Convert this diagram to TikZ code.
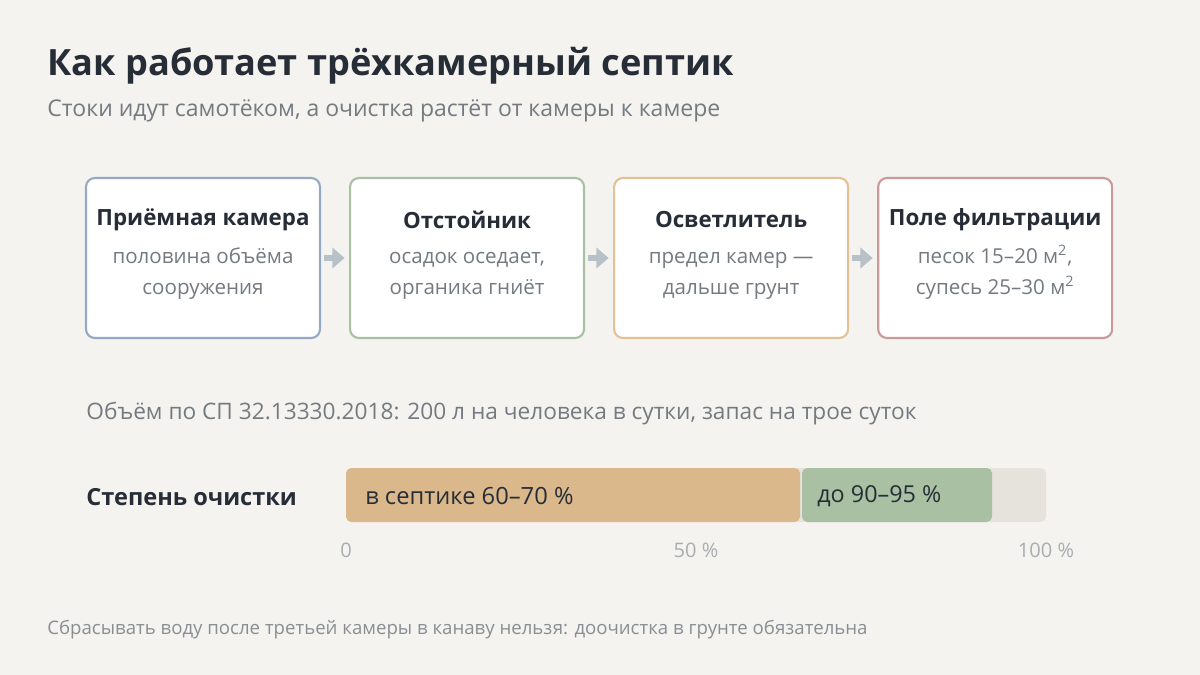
\documentclass[tikz,border=0pt]{standalone}
\usepackage{fontspec}
\setmainfont{Open Sans}
\usetikzlibrary{positioning,arrows.meta}
\definecolor{bg}{HTML}{F5F3F0}
\definecolor{ink}{HTML}{262D36}
\definecolor{grey}{HTML}{737A80}
\definecolor{light}{HTML}{A8ADB2}
\definecolor{arr}{HTML}{B8C0C8}
\definecolor{cblue}{HTML}{94A9C2}
\definecolor{cgreen}{HTML}{A9C0A2}
\definecolor{ctan}{HTML}{E2C195}
\definecolor{crose}{HTML}{C99A9A}
\definecolor{barA}{HTML}{DBB88B}
\definecolor{barB}{HTML}{A9C0A2}
\definecolor{track}{HTML}{E6E3DC}
\newcommand{\sqm}{м\smash{\textsuperscript{2}}}
\newcommand{\lead}{\rule{0pt}{12pt}}
\tikzset{
  chamber/.style={draw=#1, line width=1.2pt, fill=white, rounded corners=5pt,
    minimum width=4.68cm, minimum height=3.2cm, inner sep=0pt},
  flow/.style={draw=arr, line width=3.3pt, -{Triangle[length=7pt,width=11.5pt]}},
  ctitle/.style={font=\bfseries\fontsize{12.7}{15}\selectfont, text=ink},
  csub/.style={font=\fontsize{11.7}{15}\selectfont, text=grey, align=center, anchor=north},
  txt/.style={anchor=west, inner sep=0pt},
  tick/.style={font=\fontsize{11.4}{12}\selectfont, text=light}
}
\begin{document}
\begin{tikzpicture}[x=0.02cm,y=-0.02cm]
\useasboundingbox[fill=bg] (0,0) rectangle (1200,675);
% heading
\node[txt, font=\bfseries\fontsize{20.6}{24}\selectfont, text=ink] (title) at (47,66) {Как работает трёхкамерный септик};
\node[txt, font=\fontsize{13.1}{15}\selectfont, text=grey] (subtitle) at (47,111) {Стоки идут самотёком, а очистка растёт от камеры к камере};
% chambers
\node[chamber=cblue] (ch1) at (203,258) {};
\node[chamber=cgreen, right=0.56cm of ch1] (ch2) {};
\node[chamber=ctan, right=0.56cm of ch2] (ch3) {};
\node[chamber=crose, right=0.56cm of ch3] (ch4) {};
\node[ctitle] at ([yshift=-0.86cm]ch1.north) {Приёмная камера};
\node[ctitle] at ([yshift=-0.86cm]ch2.north) {Отстойник};
\node[ctitle] at ([yshift=-0.86cm]ch3.north) {Осветлитель};
\node[ctitle] at ([yshift=-0.86cm]ch4.north) {Поле фильтрации};
\node[csub] at ([yshift=-1.18cm]ch1.north) {\lead половина объёма\\[2.6pt]сооружения};
\node[csub] at ([yshift=-1.18cm]ch2.north) {\lead осадок оседает,\\[2.6pt]органика гниёт};
\node[csub] at ([yshift=-1.18cm]ch3.north) {\lead предел камер —\\[2.6pt]дальше грунт};
\node[csub] at ([yshift=-1.18cm]ch4.north) {\lead песок 15–20 \sqm,\\[2.6pt]супесь 25–30 \sqm};
\foreach \a/\b in {ch1/ch2,ch2/ch3,ch3/ch4}
  \draw[flow] ([xshift=1.5pt]\a.east) -- ([xshift=-2.5pt]\b.west);
% norm
\node[txt, font=\fontsize{12.9}{15}\selectfont, text=grey] (norm) at (86,414) {Объём по СП 32.13330.2018: 200 л на человека в сутки, запас на трое суток};
% purification bar
\node[txt, font=\bfseries\fontsize{13.4}{15}\selectfont, text=ink] (barlabel) at (86,497) {Степень очистки};
\fill[track, rounded corners=3pt] (346,468) rectangle (1046,522);
\fill[barA, rounded corners=3pt] (346,468) rectangle (800,522);
\fill[barB, rounded corners=3pt] (802,468) rectangle (992,522);
\node[txt, font=\fontsize{13.5}{15}\selectfont, text=ink] (septic) at (365,496) {в септике 60–70 \%};
\node[txt, font=\fontsize{13.3}{15}\selectfont, text=ink] (ground) at (817,496) {до 90–95 \%};
\foreach \x/\t in {346/0,696/50 \%,1046/100 \%}
  \node[tick] at (\x,550) {\t};
% footer
\node[txt, font=\fontsize{10.6}{12}\selectfont, text=grey!85] (footer) at (47,630) {Сбрасывать воду после третьей камеры в канаву нельзя: доочистка в грунте обязательна};
\end{tikzpicture}
\end{document}
